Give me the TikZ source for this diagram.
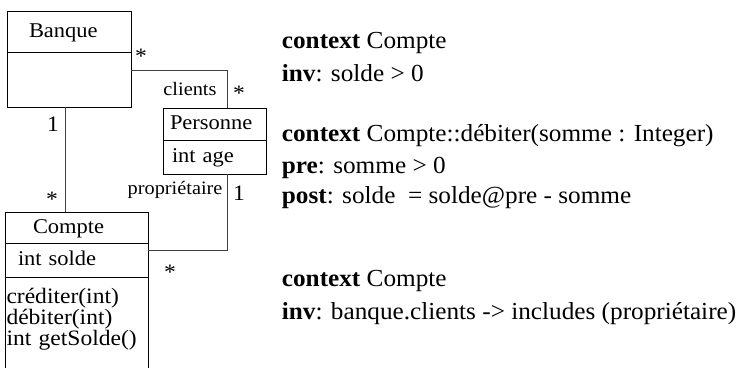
\documentclass[tikz,border=0pt]{standalone}
\usepackage{fontspec}
\usetikzlibrary{calc}
\newfontfamily\umlfont[FakeStretch=1.07]{Liberation Serif}
\newfontfamily\oclfont[FakeStretch=1.03]{Liberation Serif}
\begin{document}
\begin{tikzpicture}[x=1pt, y=-1pt,
  umlbox/.style={draw, line width=0.9pt, inner sep=0pt},
  clsname/.style={umlbox, align=left, font=\umlfont\fontsize{21}{22}\selectfont, text height=15pt, text depth=4pt},
  clsops/.style={umlbox, anchor=north west, align=left, font=\umlfont\fontsize{22}{19}\selectfont, inner xsep=1.5pt, inner ysep=0pt, text height=26pt, text depth=80pt},
  mult/.style={font=\umlfont\fontsize{22}{22}\selectfont, inner sep=0pt, anchor=base},
  role/.style={font=\umlfont\fontsize{19}{20}\selectfont, inner sep=0pt, anchor=base east},
  ocl/.style={font=\oclfont\fontsize{24.5}{26}\selectfont, inner sep=0pt, anchor=base west},
  assoc/.style={draw, line width=0.9pt, black!75}]
\useasboundingbox (0,0) rectangle (738,367);
\node[clsname, text width=80, inner xsep=22, minimum height=41] (banque) at (69,31.5) {Banque};
\node[umlbox, minimum width=124, minimum height=55] (banqueb) at (69,79.5) {};
\node[clsname, text width=89, inner xsep=7, minimum height=32] (personne) at (214.5,124) {Personne};
\node[clsname, text width=85, inner xsep=9, minimum height=34] (personnea) at (214.5,157) {int age};
\node[clsname, text width=87, inner xsep=28, minimum height=31] (compte) at (76.5,227.5) {Compte};
\node[clsname, text width=117, inner xsep=13, minimum height=34] (comptea) at (76.5,260) {int solde};
\node[clsops, text width=140] (compteo) at (comptea.south west) {cr\'editer(int)\\d\'ebiter(int)\\int getSolde()};
\draw[assoc] ($(banqueb.north east)+(0,19)$) -| ($(personne.north west)+(64.5,0)$);
\draw[assoc] ($(banqueb.south west)+(59,0)$) -- ($(compte.north west)+(61,0)$);
\draw[assoc] ($(personnea.south west)+(65,0)$) |- ($(comptea.north east)+(0,8)$);
\node[mult] (m1) at (141,63) {*};
\node[mult] (m2) at (239,100) {*};
\node[mult] (m3) at (53,131.5) {1};
\node[mult] (m4) at (52,206) {*};
\node[mult] (m5) at (239,200) {1};
\node[mult] (m6) at (170,279) {*};
\node[role] (r1) at (216.7,95) {clients};
\node[role] (r2) at (222.7,194) {propri\'etaire};
\node[ocl] (c1) at (281.7,48.3) {\textbf{context} Compte};
\node[ocl] (c2) at (281.7,81.7) {\textbf{inv}: solde > 0};
\node[ocl] (c3) at (281.7,141.7) {\textbf{context} Compte::d\'ebiter(somme : Integer)};
\node[ocl] (c4) at (281.7,173.3) {\textbf{pre}: somme > 0};
\node[ocl] (c5) at (281.7,203.3) {\textbf{post}: solde~ = solde@pre - somme};
\node[ocl] (c6) at (281.7,286.7) {\textbf{context} Compte};
\node[ocl] (c7) at (281.7,319.3) {\textbf{inv}: banque.clients -> includes (propri\'etaire)};
\end{tikzpicture}
\end{document}
